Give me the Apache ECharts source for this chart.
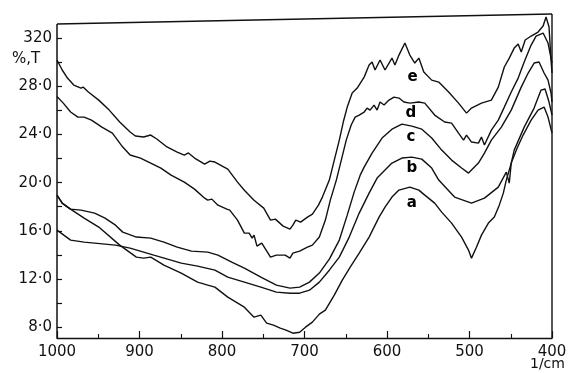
<!DOCTYPE html>
<html>
<head>
<meta charset="utf-8">
<script src="https://cdn.jsdelivr.net/npm/echarts@6/dist/echarts.min.js"></script>
<style>
html,body{margin:0;padding:0;background:#fff;}
#chart{width:572px;height:373px;}
</style>
</head>
<body>
<div id="chart"></div>
<script>
// ---- data (wavenumber 1/cm, %T) ----
const curveA = [[1000,18.96],[993.7,18.30],[987.3,17.97],[967.1,17.05],[949.4,16.31],[924,14.81],[903.8,13.81],[895,13.73],[886.4,13.81],[870.4,13.15],[849.4,12.49],[829.6,11.74],[817.3,11.49],[808.6,11.32],[793,10.49],[772.9,9.66],[761.2,8.83],[752.9,9.00],[745.9,8.33],[737.6,8.17],[729.4,7.92],[722.4,7.75],[714.1,7.50],[705.9,7.58],[698.8,8.00],[690.4,8.42],[682,9.08],[674.7,9.41],[663.9,10.66],[654.2,11.90],[644.6,12.98],[633.7,14.15],[621.7,15.48],[609.6,17.14],[602.4,17.97],[594,18.80],[585.5,19.38],[572.3,19.63],[561.4,19.38],[554.2,18.96],[542.2,18.30],[533.7,17.55],[521.7,16.64],[509.6,15.48],[501.2,14.40],[497.6,13.73],[491.6,14.64],[485.5,15.64],[477.1,16.64],[469.9,17.14],[463.9,18.13],[459,19.13],[455.4,20.21],[449.4,21.62],[442.2,22.87],[435,23.95],[425.3,25.19],[416.9,26.02],[409.6,26.27],[404.8,25.44],[400,24.11]];
const curveB = [[1000,16.06],[983.5,15.23],[967.1,15.06],[929.1,14.81],[911.4,14.56],[882.7,13.98],[849.4,13.32],[829.6,13.07],[808.6,12.73],[793,12.15],[772.9,11.74],[752.9,11.32],[734.1,10.91],[717.6,10.82],[705.9,10.82],[694,11.07],[682,11.74],[669.9,12.73],[657.8,13.81],[645.8,15.48],[633.7,17.47],[621.7,19.13],[612,20.38],[594,21.62],[581.9,22.04],[569.9,22.12],[557.8,21.95],[545.8,21.21],[537.3,20.21],[518.1,18.80],[497.6,18.30],[481.9,18.71],[465.1,19.63],[455.4,20.87],[451.8,19.96],[449.4,21.62],[445.8,22.70],[433.7,24.61],[421.7,26.19],[413.3,27.68],[408.4,27.77],[403.6,26.69],[400,25.61]];
const curveC = [[1000,18.96],[993.7,18.30],[983.5,17.80],[970.9,17.72],[954.4,17.47],[941.8,17.05],[929.1,16.47],[920.3,15.89],[903.8,15.48],[886.4,15.39],[870.4,15.06],[854.3,14.64],[837,14.31],[817.3,14.23],[804.9,13.98],[788.2,13.40],[772.9,12.90],[752.9,12.15],[734.1,11.49],[717.6,11.24],[705.9,11.32],[694,11.74],[682,12.49],[669.9,13.65],[657.8,15.23],[648.2,17.30],[639.8,19.21],[632.5,20.62],[627.7,21.29],[618.1,22.45],[606,23.70],[594,24.44],[581.9,24.86],[569.9,24.69],[557.8,24.44],[545.8,23.70],[533.7,22.70],[521.7,21.87],[509.6,21.21],[501.2,20.79],[489.2,21.62],[481.9,22.45],[473.5,23.53],[461.4,24.61],[449.4,26.02],[437.3,27.93],[428.9,29.10],[421.7,29.93],[415.7,30.01],[409.6,29.10],[404.8,28.51],[401.2,27.44],[400,26.69]];
const curveD = [[1000,27.15],[998.7,27.10],[992.4,26.60],[983.5,25.86],[974.7,25.44],[967.1,25.44],[958.2,25.19],[945.6,24.61],[932.9,24.11],[920.3,22.95],[911.4,22.29],[898.8,22.04],[886.4,21.62],[874.1,21.20],[861.7,20.62],[845.7,20.04],[833.3,19.46],[821,18.71],[817.3,18.55],[812.3,18.63],[804.9,18.13],[794.1,17.80],[790.6,17.72],[781.2,16.89],[772.9,15.81],[767.1,15.81],[763.5,15.39],[761.2,15.64],[757.6,14.73],[751.8,14.98],[741.2,13.81],[734.1,13.98],[723.5,13.98],[717.6,13.73],[714.1,14.15],[705.9,14.31],[696.4,14.64],[690.4,14.81],[682,15.48],[674.7,16.89],[668.7,18.55],[661.4,20.21],[655.4,21.87],[649.4,23.53],[643.4,24.78],[638.6,25.44],[633.7,25.61],[627.7,25.86],[624.1,26.19],[620.5,26.02],[615.7,26.44],[612,26.02],[608.4,26.69],[603.6,26.44],[597.6,26.85],[591.6,27.10],[585.5,27.02],[579.5,26.69],[572.3,26.60],[561.4,26.69],[554.2,26.60],[542.2,25.61],[530.1,25.03],[521.7,24.94],[513.3,24.11],[507.2,23.53],[503.6,23.95],[497.6,23.37],[489.2,23.28],[485.5,23.78],[481.9,23.12],[473.5,24.36],[465.1,25.19],[457.8,26.27],[449.4,27.52],[441,28.68],[433.7,30.01],[425.3,31.42],[419.3,32.17],[410.8,32.42],[404.8,31.59],[401.2,30.34],[400,29.93]];
const curveE = [[1000,30.18],[993.7,29.35],[987.3,28.68],[979.7,28.10],[970.9,27.85],[968.4,27.93],[962,27.52],[949.4,26.85],[936.7,26.02],[924,25.03],[911.4,24.20],[905,23.87],[895,23.79],[886.4,23.95],[879,23.62],[866.7,22.96],[854.3,22.53],[845.7,22.29],[840.7,22.46],[833.3,22.04],[821,21.54],[814.8,21.79],[808.6,21.71],[793,21.12],[781.2,20.04],[772.9,19.37],[761.2,18.54],[749.4,17.88],[741.2,16.89],[735.3,16.97],[725.9,16.39],[717.6,16.14],[714.1,16.47],[710.6,16.89],[704.7,16.72],[696.4,17.14],[690.4,17.39],[683.1,18.13],[678.3,18.80],[669.9,20.21],[663.9,21.87],[657.8,23.53],[653,25.03],[648.2,26.27],[642.2,27.44],[636.1,27.85],[627.7,28.76],[621.7,29.76],[618.1,30.01],[614.5,29.35],[608.4,30.18],[602.4,29.35],[594,30.34],[590.4,29.76],[585.5,30.59],[578.3,31.59],[572.3,30.59],[566.3,29.93],[561.4,30.34],[555.4,29.18],[545.8,28.51],[537.3,28.35],[525.3,27.52],[513.3,26.60],[503.6,25.77],[497.6,26.19],[485.5,26.60],[473.5,26.85],[465.1,27.93],[457.8,29.60],[451.8,30.34],[445.8,31.17],[441,31.51],[437.3,30.84],[432.5,31.84],[425.3,32.17],[416.9,32.50],[410.8,33.00],[407.2,33.75],[404.8,33.91],[403.6,32.92],[401.2,30.18],[400,29.10]];

const labelNames = ['a','b','c','d','e'];
const labelWave  = [570, 570, 571, 571, 569];
const labelT     = [18.3, 21.2, 23.8, 25.8, 28.8];

const xTicks = [1000, 900, 800, 700, 600, 500, 400];
const yTickValues = [8, 12, 16, 20, 24, 28, 32];
const yTickLabels = ['8·0', '12·0', '16·0', '20·0', '24·0', '28·0', '320'];
const yMinorValues = [8, 10, 12, 14, 16, 18, 20, 22, 24, 26, 28, 30, 32];

const X_MIN = 400, X_MAX = 1000, Y_MIN = 7.1, Y_MAX = 34;
const INK = '#111111';
const FONT = 'DejaVu Sans';

const chart = echarts.init(document.getElementById('chart'), null, {renderer: 'canvas'});

function lineSeries(data) {
  return {
    type: 'line', data: data, showSymbol: false, smooth: false, animation: false,
    lineStyle: {color: INK, width: 1.4}, silent: true, z: 3
  };
}

const option = {
  backgroundColor: '#fff',
  animation: false,
  grid: {left: 57, right: 20, top: 14, bottom: 35, containLabel: false},
  xAxis: {
    type: 'value', min: X_MIN, max: X_MAX, interval: 100, inverse: true,
    axisLine: {show: true, lineStyle: {color: INK, width: 1.4}},
    axisTick: {show: true, inside: true, length: 7, lineStyle: {color: INK, width: 1.2}},
    minorTick: {show: true, splitNumber: 2, length: 4, lineStyle: {color: INK, width: 1.1}},
    splitLine: {show: false},
    axisLabel: {
      color: INK, fontFamily: FONT, fontSize: 15, margin: 7,
      formatter: function (v) { return xTicks.indexOf(v) >= 0 ? String(v) : ''; }
    }
  },
  yAxis: {
    type: 'value', min: Y_MIN, max: Y_MAX,
    axisLine: {show: false},
    axisTick: {show: true, inside: true, length: 5, customValues: yMinorValues, lineStyle: {color: INK, width: 1.2}},
    splitLine: {show: false},
    axisLabel: {
      color: INK, fontFamily: FONT, fontSize: 15, margin: 5,
      customValues: yTickValues,
      formatter: function (v) {
        const i = yTickValues.indexOf(Math.round(v));
        return i >= 0 ? yTickLabels[i] : '';
      }
    }
  },
  series: [
    lineSeries(curveA), lineSeries(curveB), lineSeries(curveC), lineSeries(curveD), lineSeries(curveE),
    {
      type: 'scatter', symbolSize: 1, silent: true, z: 4,
      itemStyle: {opacity: 0},
      data: labelNames.map(function (n, i) { return {value: [labelWave[i], labelT[i]], name: n}; }),
      label: {
        show: true, position: 'inside', formatter: '{b}', color: '#000',
        opacity: 1, fontFamily: FONT, fontWeight: 'bold', fontSize: 15
      }
    }
  ]
};
chart.setOption(option);

// frame (left, sloped top, right) drawn from grid corners
const bl = chart.convertToPixel({gridIndex: 0}, [X_MAX, Y_MIN]);
const tl = chart.convertToPixel({gridIndex: 0}, [X_MAX, Y_MAX]);
const tr = chart.convertToPixel({gridIndex: 0}, [X_MIN, Y_MAX]);
const br = chart.convertToPixel({gridIndex: 0}, [X_MIN, Y_MIN]);
const topLeftY = tl[1] + 10;
chart.setOption({
  graphic: [
    {type: 'line', shape: {x1: bl[0], y1: bl[1], x2: tl[0], y2: topLeftY}, style: {stroke: INK, lineWidth: 1.5}, z: 5},
    {type: 'line', shape: {x1: tl[0], y1: topLeftY, x2: tr[0], y2: tr[1]}, style: {stroke: INK, lineWidth: 1.4}, z: 5},
    {type: 'line', shape: {x1: tr[0], y1: tr[1], x2: br[0], y2: br[1]}, style: {stroke: INK, lineWidth: 1.4}, z: 5},
    {type: 'text', left: 12, top: 52, style: {text: '%,T', fill: INK, font: '15px "DejaVu Sans"'}},
    {type: 'text', left: 530, top: 357, style: {text: '1/cm', fill: INK, font: '14px "DejaVu Sans"'}}
  ]
});
</script>
</body>
</html>
